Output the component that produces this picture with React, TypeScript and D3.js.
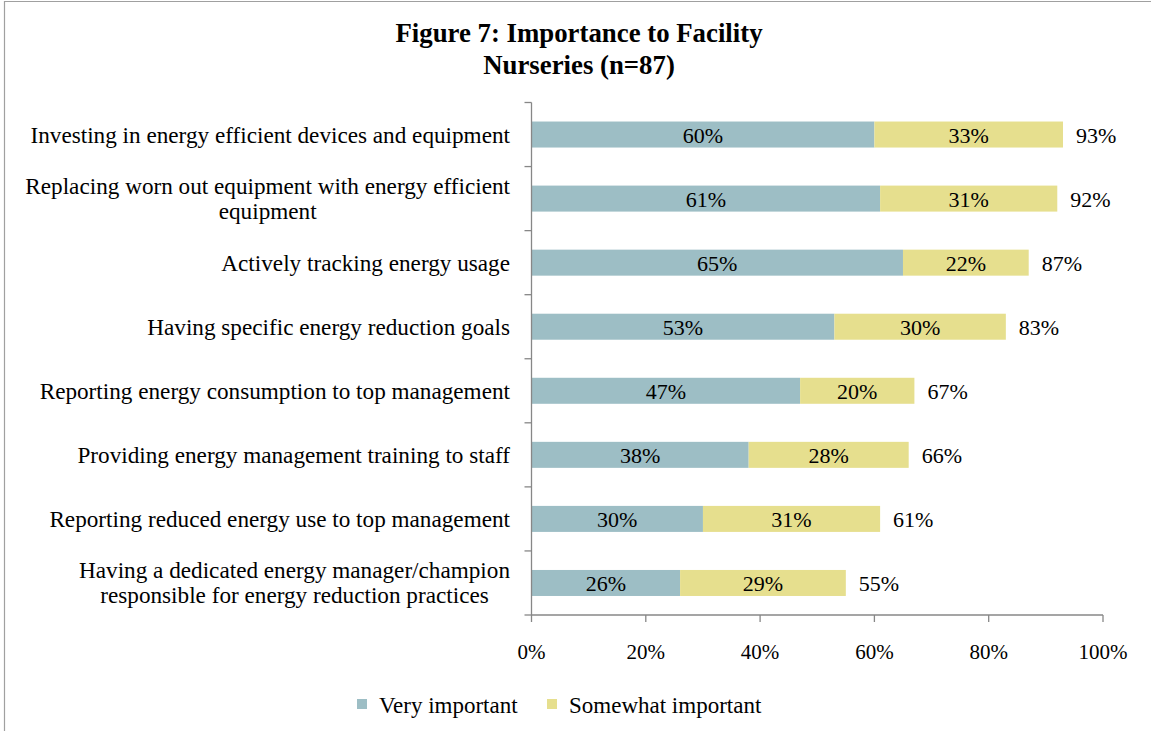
import React, { useEffect, useRef } from "react";
import * as d3 from "d3";

const categories: string[] = [
  "Investing in energy efficient devices and equipment",
  "Replacing worn out equipment with energy efficient\nequipment",
  "Actively tracking energy usage",
  "Having specific energy reduction goals",
  "Reporting energy consumption to top management",
  "Providing energy management training to staff",
  "Reporting reduced energy use to top management",
  "Having a dedicated energy manager/champion\nresponsible for energy reduction practices",
];
const veryImportant: number[] = [60, 61, 65, 53, 47, 38, 30, 26];
const somewhatImportant: number[] = [33, 31, 22, 30, 20, 28, 31, 29];
const totals: number[] = [93, 92, 87, 83, 67, 66, 61, 55];
const xTicks: number[] = [0, 20, 40, 60, 80, 100];
const seriesNames: string[] = ["Very important", "Somewhat important"];
const titleLines: string[] = ["Figure 7: Importance to Facility", "Nurseries (n=87)"];

const COLORS = ["#9dbec5", "#e6df8e"];
const FONT = "'Liberation Serif', 'Times New Roman', serif";
const W = 1151;
const H = 731;

export default function App() {
  const ref = useRef<SVGSVGElement | null>(null);

  useEffect(() => {
    const svg = d3.select(ref.current);
    svg.selectAll("*").remove();

    const left = 531.5, right = 1103, top = 102.5, bottom = 615;
    const x = d3.scaleLinear().domain([0, 100]).range([left, right]);
    const y = d3.scaleBand<string>().domain(categories).range([top, bottom]).padding(0);
    const bw = y.bandwidth();
    const barH = bw * 0.406;

    // outer border
    svg.append("path")
      .attr("d", `M4.5,${H + 5} L4.5,1.5 L${W + 5},1.5`)
      .attr("fill", "none")
      .attr("stroke", "#a0a0a0")
      .attr("stroke-width", 1.2);

    // title
    const title = svg.append("text")
      .attr("font-family", FONT)
      .attr("font-weight", "bold")
      .attr("font-size", 26.8)
      .attr("text-anchor", "middle")
      .attr("fill", "#000");
    titleLines.forEach((t, i) => {
      title.append("tspan").attr("x", 579).attr("y", 42 + i * 31.5).text(t);
    });

    // bars
    const g = svg.append("g");
    categories.forEach((c, i) => {
      const y0 = (y(c) as number) + (bw - barH) / 2;
      const cy = (y(c) as number) + bw / 2;
      const v = veryImportant[i];
      const s = somewhatImportant[i];
      g.append("rect")
        .attr("x", x(0)).attr("y", y0)
        .attr("width", x(v) - x(0)).attr("height", barH)
        .attr("fill", COLORS[0]);
      g.append("rect")
        .attr("x", x(v)).attr("y", y0)
        .attr("width", x(v + s) - x(v)).attr("height", barH)
        .attr("fill", COLORS[1]);
      g.append("text")
        .attr("x", (x(0) + x(v)) / 2).attr("y", cy + 8)
        .attr("text-anchor", "middle")
        .attr("font-family", FONT).attr("font-size", 22)
        .text(`${v}%`);
      g.append("text")
        .attr("x", (x(v) + x(v + s)) / 2).attr("y", cy + 8)
        .attr("text-anchor", "middle")
        .attr("font-family", FONT).attr("font-size", 22)
        .text(`${s}%`);
      g.append("text")
        .attr("x", x(v + s) + 13).attr("y", cy + 8)
        .attr("text-anchor", "start")
        .attr("font-family", FONT).attr("font-size", 22)
        .text(`${totals[i]}%`);

      // category label
      const lines = c.split("\n");
      const labelRight = 510;
      const lg = svg.append("g");
      const texts = lines.map((ln, j) =>
        lg.append("text")
          .attr("font-family", FONT).attr("font-size", 23.2)
          .attr("y", cy + 8 + (j - (lines.length - 1) / 2) * 25)
          .text(ln)
      );
      const widths = texts.map((t) => (t.node() as SVGTextElement).getComputedTextLength());
      const maxW = Math.max(...widths);
      const center = labelRight - maxW / 2;
      texts.forEach((t) => t.attr("x", center).attr("text-anchor", "middle"));
    });

    // axes
    const axisColor = "#878787";
    svg.append("line")
      .attr("x1", left).attr("x2", left).attr("y1", top).attr("y2", bottom)
      .attr("stroke", axisColor).attr("stroke-width", 1.3);
    const boundaries = categories.map((c) => y(c) as number).concat([bottom]);
    boundaries.forEach((b) => {
      svg.append("line")
        .attr("x1", left - 7).attr("x2", left).attr("y1", b).attr("y2", b)
        .attr("stroke", axisColor).attr("stroke-width", 1.3);
    });
    svg.append("line")
      .attr("x1", left).attr("x2", right).attr("y1", bottom).attr("y2", bottom)
      .attr("stroke", axisColor).attr("stroke-width", 1.3);
    xTicks.forEach((t) => {
      svg.append("line")
        .attr("x1", x(t)).attr("x2", x(t)).attr("y1", bottom).attr("y2", bottom + 7)
        .attr("stroke", axisColor).attr("stroke-width", 1.3);
      svg.append("text")
        .attr("x", x(t)).attr("y", 659)
        .attr("text-anchor", "middle")
        .attr("font-family", FONT).attr("font-size", 21)
        .text(`${t}%`);
    });

    // legend
    const legendX = [357, 547];
    seriesNames.forEach((n, i) => {
      svg.append("rect")
        .attr("x", legendX[i]).attr("y", 699)
        .attr("width", 10).attr("height", 10)
        .attr("fill", COLORS[i]);
      svg.append("text")
        .attr("x", legendX[i] + 22).attr("y", 712.5)
        .attr("font-family", FONT).attr("font-size", 23)
        .text(n);
    });
  }, []);

  return (
    <svg
      ref={ref}
      width={W}
      height={H}
      style={{ position: "absolute", left: 0, top: 0, background: "#fff", display: "block" }}
    />
  );
}
